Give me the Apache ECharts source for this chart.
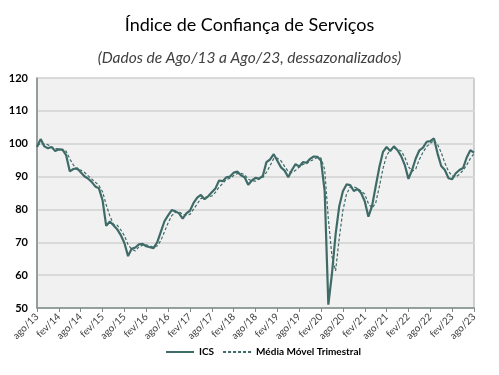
<!DOCTYPE html>
<html>
<head>
<meta charset="utf-8">
<script src="https://cdn.jsdelivr.net/npm/echarts@6/dist/echarts.min.js"></script>
<style>
  html, body { margin: 0; padding: 0; background: #fff; }
  #main { width: 499px; height: 375px; }
</style>
</head>
<body>
<div id="main"></div>
<script>
// meses (ago/13 a ago/23)
var meses = ['jan', 'fev', 'mar', 'abr', 'mai', 'jun', 'jul', 'ago', 'set', 'out', 'nov', 'dez']
var categorias = []
for (var k = 0; k <= 120; k++) {
  var m = (7 + k) % 12
  var a = 13 + Math.floor((7 + k) / 12)
  categorias.push(meses[m] + '/' + a)
}

// ICS dessazonalizado
var ics = [
  99.0, 101.4, 99.2, 98.6, 99.0, 97.8, 98.3, 98.2, 96.5, 91.6, 92.3, 92.5,
  91.3, 90.1, 89.4, 88.4, 87.0, 86.4, 82.8, 75.0, 76.3, 75.2, 74.0, 72.2,
  69.8, 65.8, 68.0, 68.4, 69.4, 69.5, 68.8, 68.5, 68.2, 70.0, 73.2, 76.4,
  78.2, 79.8, 79.4, 78.8, 77.2, 78.8, 79.6, 82.0, 83.6, 84.4, 83.1, 84.0,
  85.2, 86.4, 88.8, 88.6, 89.8, 90.0, 91.2, 91.5, 90.4, 89.8, 87.5, 88.8,
  89.6, 89.4, 90.2, 94.4, 95.2, 96.8, 94.8, 92.8, 91.8, 89.8, 92.0, 93.8,
  93.0, 94.4, 94.2, 95.4, 96.1, 96.0, 94.8, 85.5, 51.0, 60.5, 72.5, 81.0,
  85.5, 87.6, 87.4, 85.6, 86.2, 85.0, 82.5, 77.8, 81.0, 87.0, 92.8, 97.5,
  99.0, 97.8, 99.2, 98.0, 96.2, 93.5, 89.3, 92.0, 95.5, 98.0, 98.8, 100.6,
  100.8, 101.6, 97.0, 93.2, 92.0, 89.5, 89.2, 91.0, 92.0, 92.6, 95.8, 98.0,
  97.3
]

// media movel trimestral
var mediaMovel = [
  99.5, 100.0, 99.9, 99.7, 98.9, 98.5, 98.4, 98.1, 97.7, 95.4, 93.5, 92.1,
  92.0, 91.3, 90.3, 89.3, 88.3, 87.3, 85.4, 81.4, 78.0, 75.5, 75.2, 73.8,
  72.0, 69.3, 67.9, 67.4, 68.6, 69.1, 69.2, 68.9, 68.5, 68.9, 70.5, 73.2,
  75.9, 78.1, 79.1, 79.3, 78.5, 78.3, 78.5, 80.1, 81.7, 83.3, 83.7, 83.8,
  84.1, 85.2, 86.8, 87.9, 89.1, 89.5, 90.3, 90.9, 91.0, 90.6, 89.2, 88.7,
  88.6, 89.3, 89.7, 91.3, 93.3, 95.5, 95.6, 94.8, 93.1, 91.5, 91.2, 91.9,
  92.9, 93.7, 93.9, 94.7, 95.2, 95.8, 95.6, 92.1, 77.1, 65.7, 61.3, 71.3,
  79.7, 84.7, 86.8, 86.9, 86.4, 85.6, 84.6, 81.8, 80.4, 81.9, 86.9, 92.4,
  96.4, 98.1, 98.7, 98.3, 97.8, 95.9, 93.0, 91.6, 92.3, 95.2, 97.4, 99.1,
  100.1, 101.0, 99.8, 97.3, 94.1, 91.6, 90.2, 89.9, 90.7, 91.9, 93.5, 95.5,
  97.0
]

var cor = '#3e6b67'
var fonte = 'Lato, "Open Sans", sans-serif'

var myChart = echarts.init(document.getElementById('main'))
myChart.setOption({
  animation: false,
  title: [
    {
      text: 'Índice de Confiança de Serviços',
      left: 'center',
      top: 11,
      textStyle: { fontFamily: fonte, fontSize: 18, fontWeight: 'normal', color: '#000' }
    },
    {
      text: '(Dados de Ago/13 a Ago/23, dessazonalizados)',
      left: 'center',
      top: 45,
      textStyle: { fontFamily: fonte, fontSize: 15.5, fontWeight: 'normal', fontStyle: 'italic', color: '#404040' }
    }
  ],
  legend: {
    bottom: 13,
    left: 160,
    itemWidth: 28,
    itemHeight: 10,
    itemGap: 8,
    itemStyle: { opacity: 0 },
    textStyle: { fontFamily: fonte, fontSize: 10, fontWeight: 'bold', color: '#000' },
    data: ['ICS', 'Média Móvel Trimestral']
  },
  grid: {
    left: 37,
    right: 25,
    top: 78,
    bottom: 67,
    show: true,
    backgroundColor: '#f1f1f1',
    borderColor: '#a6a6a6',
    borderWidth: 1
  },
  xAxis: {
    type: 'category',
    data: categorias,
    boundaryGap: false,
    axisLine: { lineStyle: { color: '#7f8c8a', width: 1.5 } },
    axisTick: { interval: 5, length: 4, lineStyle: { color: '#7f8c8a' } },
    axisLabel: {
      interval: 5,
      rotate: 45,
      fontFamily: fonte,
      fontSize: 10,
      color: '#404040',
      margin: 7
    }
  },
  yAxis: {
    type: 'value',
    min: 50,
    max: 120,
    interval: 10,
    axisLine: { show: true, lineStyle: { color: '#7f8c8a', width: 1.5 } },
    axisTick: { show: false },
    splitLine: { lineStyle: { color: '#d9d9d9', width: 2 } },
    axisLabel: { fontFamily: fonte, fontSize: 11, fontWeight: 'bold', color: '#000', margin: 9 }
  },
  series: [
    {
      name: 'ICS',
      type: 'line',
      data: ics,
      showSymbol: false,
      symbol: 'none',
      lineStyle: { color: cor, width: 2.2 },
      itemStyle: { color: cor }
    },
    {
      name: 'Média Móvel Trimestral',
      type: 'line',
      data: mediaMovel,
      showSymbol: false,
      symbol: 'none',
      lineStyle: { color: cor, width: 1.2, type: [3, 2] },
      itemStyle: { color: cor }
    }
  ]
})
</script>
</body>
</html>
